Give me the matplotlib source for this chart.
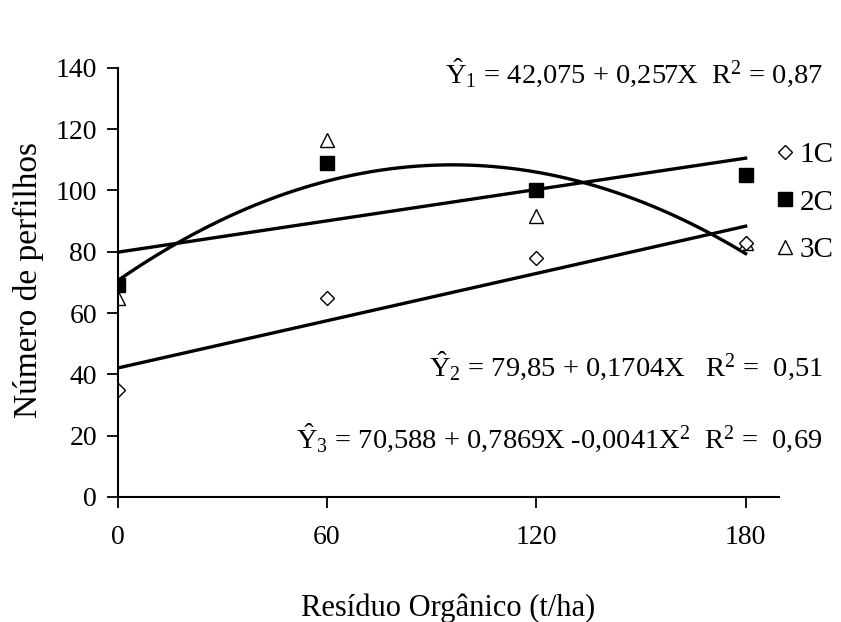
import numpy as np
import matplotlib
matplotlib.use("Agg")
import matplotlib.pyplot as plt
from matplotlib.lines import Line2D

plt.rcParams['font.family'] = ['Liberation Serif', 'DejaVu Serif']
plt.rcParams['mathtext.fontset'] = 'custom'
plt.rcParams['mathtext.rm'] = 'Liberation Serif'
plt.rcParams['mathtext.it'] = 'Liberation Serif'

doses = [0, 60, 120, 180]
c1 = [35, 65, 78, 83]
c2 = [69, 109, 100, 105]
c3 = [65, 116.5, 91.5, 83]
labels = ["1C", "2C", "3C"]

eq1 = (42.075, 0.257)
eq2 = (79.85, 0.1704)
eq3 = (70.588, 0.7869, -0.0041)

fig = plt.figure(figsize=(8.41, 6.22), dpi=100)
ax = fig.add_axes([0.140, 0.201, 0.786, 0.690])

xs = np.linspace(0, 180, 200)
ax.plot(xs, eq1[0] + eq1[1] * xs, color='black', lw=2.4)
ax.plot(xs, eq2[0] + eq2[1] * xs, color='black', lw=2.4)
ax.plot(xs, eq3[0] + eq3[1] * xs + eq3[2] * xs ** 2, color='black', lw=2.4)

ax.plot(doses, c3, linestyle='none', marker='^', markersize=10, mfc='white', mec='black', mew=1)
ax.plot(doses, c2, linestyle='none', marker='s', markersize=10, mfc='black', mec='black')
ax.plot(doses, c1, linestyle='none', marker='D', markersize=7.5, mfc='white', mec='black', mew=1)

ax.set_xlim(0, 189.5)
ax.set_ylim(0, 140)
ax.set_xticks([0, 60, 120, 180])
ax.set_yticks(np.arange(0, 141, 20))
for s in ['top', 'right']:
    ax.spines[s].set_visible(False)
for s in ['left', 'bottom']:
    ax.spines[s].set_linewidth(1.5)
ax.tick_params(axis='both', direction='out', length=8, width=1.3, labelsize=20)
ax.tick_params(axis='y', pad=7)
ax.tick_params(axis='x', pad=12)

ax.set_ylabel("Número de perfilhos", fontsize=24)
ax.yaxis.set_label_coords(-0.112, 0.505)
ax.set_xlabel("Resíduo Orgânico (t/ha)", fontsize=22)
ax.xaxis.set_label_coords(0.5, -0.225)

handles = [
    Line2D([], [], linestyle='none', marker='D', markersize=7.5, mfc='white', mec='black'),
    Line2D([], [], linestyle='none', marker='s', markersize=10, mfc='black', mec='black'),
    Line2D([], [], linestyle='none', marker='^', markersize=10, mfc='white', mec='black'),
]
fig.legend(handles, labels, loc='upper left', bbox_to_anchor=(0.925, 0.772), frameon=False,
           fontsize=21, handlelength=0.5, handletextpad=0.25, labelspacing=0.72, borderaxespad=0,
           borderpad=0)

fig.text(0.978, 0.866, r"$\hat{\mathrm{Y}}_1$ = 42,075 + 0,257X  R$^2$ = 0,87", ha='right', va='baseline', fontsize=20.5)
fig.text(0.978, 0.395, r"$\hat{\mathrm{Y}}_2$ = 79,85 + 0,1704X   R$^2$ =  0,51", ha='right', va='baseline', fontsize=20.5)
fig.text(0.978, 0.280, r"$\hat{\mathrm{Y}}_3$ = 70,588 + 0,7869X -0,0041X$^2$  R$^2$ =  0,69", ha='right', va='baseline', fontsize=20.5)

fig.savefig("out.png", dpi=100)
